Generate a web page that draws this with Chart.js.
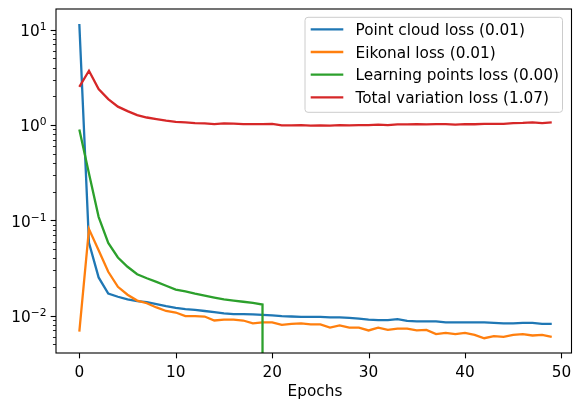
<!DOCTYPE html>
<html>
<head>
<meta charset="utf-8">
<script src="https://cdn.jsdelivr.net/npm/chart.js@4/dist/chart.umd.min.js"></script>
<style>
    html, body { margin: 0; padding: 0; background: #fff; }
    #wrap { width: 573px; height: 403px; }
</style>
</head>
<body>
<div id="wrap"><canvas id="chart"></canvas></div>
<script>
// data
var epochs = [];
for (var i = 0; i < 50; i++) epochs.push(i);

var pointCloudLoss = [11.5, 0.058, 0.0252, 0.0171, 0.0158, 0.0148, 0.0142, 0.0139, 0.0132, 0.0126,
    0.0121, 0.0117, 0.0115, 0.0112, 0.0109, 0.0106, 0.0104, 0.0104, 0.0103, 0.0102,
    0.0101, 0.0099, 0.0098, 0.0097, 0.0097, 0.0097, 0.0096, 0.0096, 0.0095, 0.0093,
    0.0091, 0.0090, 0.0090, 0.0092, 0.0088, 0.0087, 0.0087, 0.0087, 0.0085, 0.0085,
    0.0085, 0.0085, 0.0085, 0.0084, 0.0083, 0.0083, 0.0084, 0.0084, 0.0082, 0.0082];

var eikonalLoss = [0.0068, 0.081, 0.0485, 0.0289, 0.0201, 0.0166, 0.0144, 0.0135, 0.0122, 0.0112,
    0.0108, 0.0099, 0.0099, 0.0098, 0.0089, 0.0091, 0.0091, 0.0089, 0.0083, 0.0085,
    0.0085, 0.0080, 0.0082, 0.0083, 0.0081, 0.0081, 0.0075, 0.0079, 0.0075, 0.0075,
    0.0070, 0.0075, 0.0071, 0.0073, 0.0073, 0.0070, 0.0071, 0.0064, 0.0066, 0.0064,
    0.0066, 0.0063, 0.0058, 0.0061, 0.0060, 0.0063, 0.0064, 0.0062, 0.0063, 0.0060];

var learningPointsLoss = [0.9, 0.31, 0.109, 0.058, 0.0408, 0.0326, 0.0272, 0.0247, 0.0226, 0.0206,
    0.0188, 0.0180, 0.0170, 0.0162, 0.0155, 0.0148, 0.0144, 0.0140, 0.0136, 0.0131,
    0, 0, 0, 0, 0, 0, 0, 0, 0, 0,
    0, 0, 0, 0, 0, 0, 0, 0, 0, 0,
    0, 0, 0, 0, 0, 0, 0, 0, 0, 0];

var totalVariationLoss = [2.52, 3.71, 2.39, 1.87, 1.56, 1.40, 1.27, 1.20, 1.156, 1.11,
    1.08, 1.067, 1.05, 1.04, 1.025, 1.04, 1.035, 1.025, 1.025, 1.025,
    1.03, 0.99, 0.99, 1.0, 0.985, 0.99, 0.985, 1.0, 0.99, 1.0,
    1.0, 1.01, 1.0, 1.015, 1.015, 1.025, 1.015, 1.025, 1.025, 1.01,
    1.025, 1.02, 1.03, 1.03, 1.03, 1.05, 1.055, 1.067, 1.05, 1.067];

var seriesLabels = ['Point cloud loss (0.01)', 'Eikonal loss (0.01)', 'Learning points loss (0.00)', 'Total variation loss (1.07)'];
var seriesColors = ['#1f77b4', '#ff7f0e', '#2ca02c', '#d62728'];
var seriesValues = [pointCloudLoss, eikonalLoss, learningPointsLoss, totalVariationLoss];

var xTicks = [0, 10, 20, 30, 40, 50];
var yTicks = [0.01, 0.1, 1, 10];
var yTickExp = ['\u22122', '\u22121', '0', '1'];
var xTitle = 'Epochs';

var FONT = '"DejaVu Sans", sans-serif';
var FS = 15.3;
var LW = 2.3;

// log axis: zero values are clipped far below the axis, like matplotlib does
function clipZero(arr) {
    return arr.map(function (v, i) { return { x: epochs[i], y: v > 0 ? v : 1e-300 }; });
}

var datasets = seriesValues.map(function (vals, k) {
    return {
        label: seriesLabels[k],
        data: clipZero(vals),
        borderColor: seriesColors[k],
        backgroundColor: seriesColors[k],
        borderWidth: LW,
        pointRadius: 0,
        tension: 0,
        fill: false,
        order: seriesValues.length - k
    };
});

// ticks, labels, spines and legend the way matplotlib draws them
var axesDecor = {
    id: 'axesDecor',
    afterDatasetsDraw: function (chart) {
        var ctx = chart.ctx, a = chart.chartArea;
        var xs = chart.scales.x, ys = chart.scales.y;
        var TL = 5.35, TLm = 3.05;
        ctx.save();
        ctx.strokeStyle = '#000';
        ctx.fillStyle = '#000';
        ctx.font = FS + 'px ' + FONT;
        ctx.textBaseline = 'alphabetic';

        // x ticks + labels
        ctx.lineWidth = 1.1;
        ctx.textAlign = 'center';
        xTicks.forEach(function (t) {
            var p = xs.getPixelForValue(t);
            var px = Math.round(p) + 0.5;
            ctx.beginPath(); ctx.moveTo(px, a.bottom); ctx.lineTo(px, a.bottom + TL); ctx.stroke();
            ctx.fillText(String(t), p, a.bottom + 23.7);
        });
        ctx.fillText(xTitle, 315, 396.2);

        // y major ticks + labels (10 with a superscript exponent)
        var supFont = (FS * 0.7).toFixed(2) + 'px ' + FONT;
        yTicks.forEach(function (t, k) {
            var p = ys.getPixelForValue(t);
            var py = Math.round(p) + 0.5;
            ctx.beginPath(); ctx.moveTo(a.left, py); ctx.lineTo(a.left - TL, py); ctx.stroke();
            var right = a.left - 9.5;
            ctx.font = supFont;
            ctx.textAlign = 'right';
            var ew = ctx.measureText(yTickExp[k]).width;
            ctx.fillText(yTickExp[k], right, p + 0.4);
            ctx.font = FS + 'px ' + FONT;
            ctx.fillText('10', right - ew, p + 6.3);
        });
        // y minor ticks
        ctx.lineWidth = 0.85;
        for (var d = -3; d <= 1; d++) {
            for (var m = 2; m <= 9; m++) {
                var v = m * Math.pow(10, d);
                if (v < ys.min || v > ys.max) continue;
                var py = Math.round(ys.getPixelForValue(v)) + 0.5;
                ctx.beginPath(); ctx.moveTo(a.left, py); ctx.lineTo(a.left - TLm, py); ctx.stroke();
            }
        }
        // spines
        ctx.lineWidth = 1.1;
        ctx.strokeRect(a.left, a.top, a.right - a.left, a.bottom - a.top);

        // legend
        var lx = 305, ly = 17.3, lw = 257.5, lh = 95, r = 3;
        ctx.beginPath();
        ctx.moveTo(lx + r, ly);
        ctx.arcTo(lx + lw, ly, lx + lw, ly + lh, r);
        ctx.arcTo(lx + lw, ly + lh, lx, ly + lh, r);
        ctx.arcTo(lx, ly + lh, lx, ly, r);
        ctx.arcTo(lx, ly, lx + lw, ly, r);
        ctx.closePath();
        ctx.fillStyle = 'rgba(255,255,255,0.8)';
        ctx.fill();
        ctx.strokeStyle = '#cccccc';
        ctx.lineWidth = 1;
        ctx.stroke();
        ctx.font = FS + 'px ' + FONT;
        ctx.textAlign = 'left';
        chart.data.datasets.forEach(function (ds, k) {
            var ry = 29.3 + k * 22.7;
            ctx.strokeStyle = ds.borderColor;
            ctx.lineWidth = LW;
            ctx.beginPath(); ctx.moveTo(310.7, ry); ctx.lineTo(343.3, ry); ctx.stroke();
            ctx.fillStyle = '#000';
            ctx.fillText(ds.label, 355.5, ry + 5.5);
        });
        ctx.restore();
    }
};

new Chart(document.getElementById('chart'), {
    type: 'line',
    data: { datasets: datasets },
    options: {
        responsive: true,
        maintainAspectRatio: false,
        animation: false,
        layout: { padding: { top: 9, right: 1.5, left: 0, bottom: 0 } },
        plugins: { legend: { display: false }, tooltip: { enabled: false } },
        scales: {
            x: {
                type: 'linear',
                min: -2.42,
                max: 51.05,
                grid: { display: false },
                border: { display: false },
                ticks: { display: false },
                afterFit: function (s) { s.height = 50; }
            },
            y: {
                type: 'logarithmic',
                min: 0.00406,
                max: 16.5,
                grid: { display: false },
                border: { display: false },
                ticks: { display: false },
                afterFit: function (s) { s.width = 56; }
            }
        }
    },
    plugins: [axesDecor]
});
</script>
</body>
</html>
